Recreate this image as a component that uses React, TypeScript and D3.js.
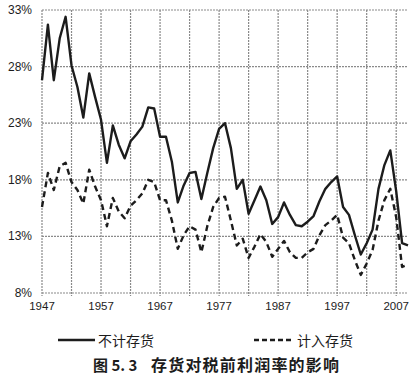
import * as React from "react";
import * as d3 from "d3";

// 年份 1947-2009
const years = d3.range(1947, 2010);

// 不计存货 (%)
const withoutInventory = [
  26.8, 31.7, 26.8, 30.5, 32.4, 28.1, 26.2, 23.5, 27.4, 25.3,
  23.3, 19.5, 22.8, 21.1, 19.9, 21.4, 22.0, 22.7, 24.4, 24.3,
  21.8, 21.8, 19.6, 16.0, 17.5, 18.6, 18.7, 16.3, 18.6, 20.8,
  22.5, 23.0, 20.8, 17.2, 18.0, 15.0, 16.2, 17.4, 16.2, 14.1,
  14.7, 16.0, 14.9, 14.0, 13.9, 14.3, 14.8, 16.1, 17.2, 17.8,
  18.3, 15.6, 14.9, 13.1, 11.4, 12.4, 13.6, 17.2, 19.3, 20.6,
  17.0, 12.4, 12.2,
];

// 计入存货 (%)
const withInventory = [
  15.6, 18.6, 17.1, 19.2, 19.5, 17.8, 17.1, 15.9, 18.9, 17.4,
  16.2, 13.9, 16.4, 15.2, 14.6, 15.7, 16.2, 16.8, 18.0, 17.8,
  16.2, 16.2, 14.4, 11.9, 13.1, 13.9, 13.6, 11.6, 13.9, 15.6,
  16.4, 16.5, 14.4, 12.2, 12.8, 11.1, 12.1, 13.2, 12.5, 11.2,
  11.9, 12.6, 11.6, 11.1, 11.1, 11.6, 11.9, 13.1, 14.0, 14.4,
  14.9, 12.9, 12.4, 10.9, 9.6, 10.6, 11.8, 14.4, 16.2, 17.2,
  14.7, 10.3, 10.5,
];

const yTicks = [8, 13, 18, 23, 28, 33];
const xLabels = [1947, 1957, 1967, 1977, 1987, 1997, 2007];
const xGrid = d3.range(1947, 2008, 5);

const seriesNames = ["不计存货", "计入存货"];
const figureNo = "图 5. 3";
const title = "存货对税前利润率的影响";

export default function App() {
  const width = 420;
  const height = 385;
  const left = 42;
  const right = 408;
  const top = 10;
  const bottom = 293;

  const x = d3.scaleLinear().domain([1947, 2009]).range([left, right]);
  const y = d3.scaleLinear().domain([8, 33]).range([bottom, top]);

  const line = d3
    .line<number>()
    .x((d, i) => x(years[i]))
    .y((d) => y(d));

  const gridColor = "#8a8a8a";
  const ink = "#1c1c1c";
  const font = "'Liberation Sans', Arial, sans-serif";
  const cjk = "'Noto Sans CJK SC', sans-serif";

  return (
    <svg
      width={width}
      height={height}
      style={{ position: "absolute", left: 0, top: 0, background: "#fff" }}
    >
      <rect width={width} height={height} fill="#fff" />
      {/* horizontal grid */}
      {yTicks.map((t) => (
        <g key={"h" + t}>
          <line
            x1={left}
            x2={right}
            y1={y(t)}
            y2={y(t)}
            stroke={gridColor}
            strokeWidth={1.2}
            strokeDasharray="2,1"
          />
          <text
            x={32}
            y={y(t)}
            textAnchor="end"
            dominantBaseline="central"
            fontFamily={font}
            fontSize={12}
            fill={ink}
          >
            {t}%
          </text>
        </g>
      ))}
      {/* vertical grid */}
      {xGrid.map((t) => (
        <line
          key={"v" + t}
          x1={x(t)}
          x2={x(t)}
          y1={top}
          y2={bottom + 3}
          stroke={gridColor}
          strokeWidth={1.2}
          strokeDasharray="2,1"
        />
      ))}
      {xLabels.map((t) => (
        <text
          key={"xl" + t}
          x={x(t)}
          y={306}
          textAnchor="middle"
          dominantBaseline="central"
          fontFamily={font}
          fontSize={11.5}
          fill={ink}
        >
          {t}
        </text>
      ))}
      {/* series */}
      <path
        d={line(withoutInventory) || ""}
        fill="none"
        stroke={ink}
        strokeWidth={2.4}
        strokeLinejoin="round"
      />
      <path
        d={line(withInventory) || ""}
        fill="none"
        stroke={ink}
        strokeWidth={2.4}
        strokeDasharray="6,4"
        strokeLinejoin="round"
      />
      {/* legend */}
      <g transform="translate(0, 340)">
        <line x1={58} x2={95} y1={0} y2={0} stroke={ink} strokeWidth={2.4} />
        <text
          x={98}
          y={0}
          dominantBaseline="central"
          fontFamily={cjk}
          fontSize={14}
          fill={ink}
        >
          {seriesNames[0]}
        </text>
        <line
          x1={254}
          x2={293}
          y1={0}
          y2={0}
          stroke={ink}
          strokeWidth={2.4}
          strokeDasharray="5,3"
        />
        <text
          x={297}
          y={0}
          dominantBaseline="central"
          fontFamily={cjk}
          fontSize={14}
          fill={ink}
        >
          {seriesNames[1]}
        </text>
      </g>
      {/* caption */}
      <text
        x={93}
        y={364}
        dominantBaseline="central"
        fontFamily={cjk}
        fontSize={15}
        fontWeight="bold"
        fill={ink}
      >
        {figureNo}
      </text>
      <text
        x={151}
        y={364}
        dominantBaseline="central"
        fontFamily={cjk}
        fontSize={16}
        fontWeight="bold"
        letterSpacing={1.2}
        fill={ink}
      >
        {title}
      </text>
    </svg>
  );
}
